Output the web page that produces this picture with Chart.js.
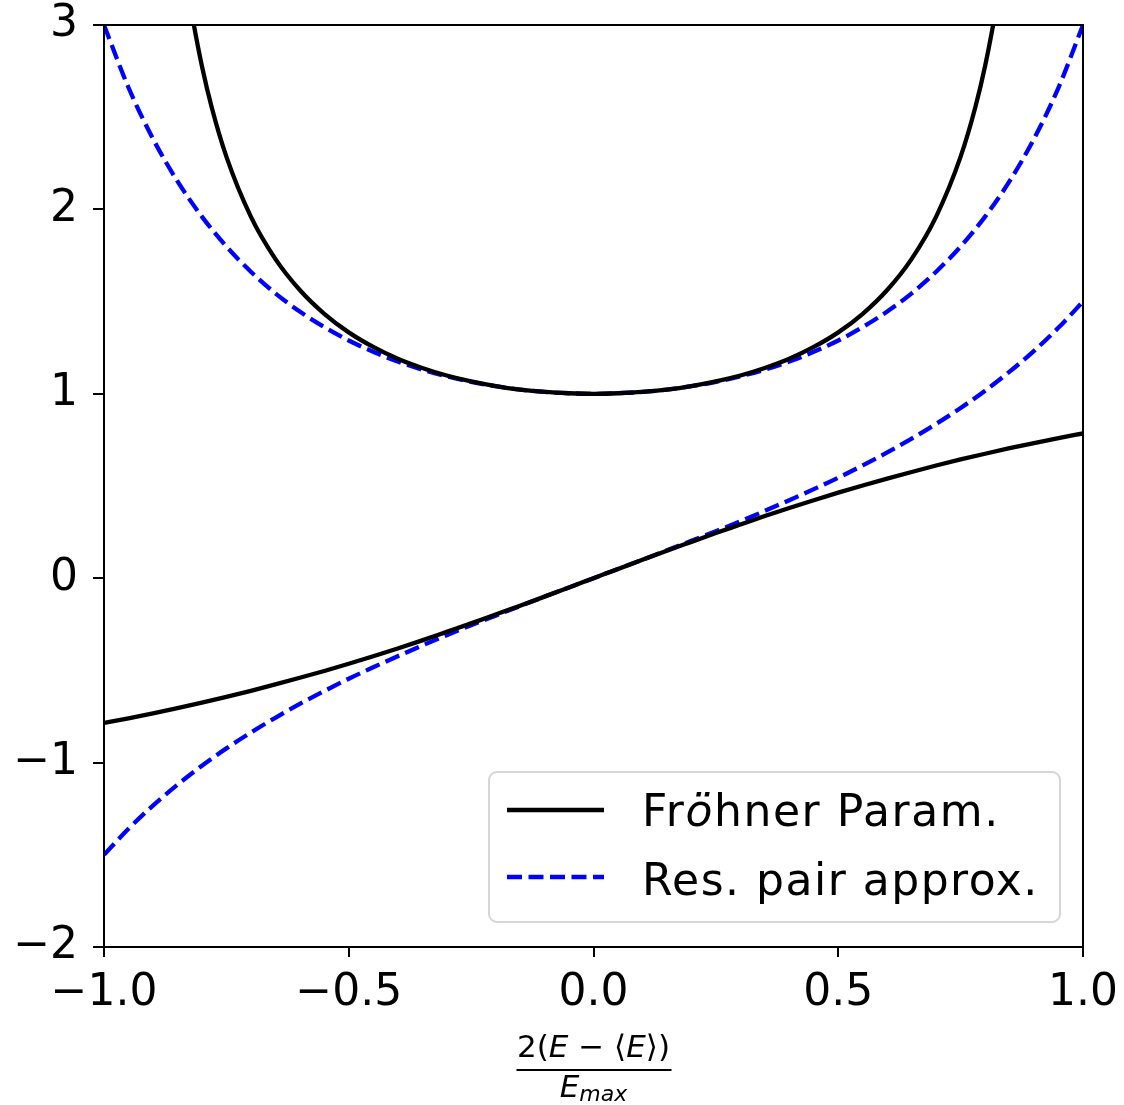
<!DOCTYPE html>
<html>
<head>
<meta charset="utf-8">
<script src="https://cdn.jsdelivr.net/npm/chart.js@4.4.1/dist/chart.umd.min.js"></script>
<style>
  html, body { margin: 0; padding: 0; background: #fff; }
  #wrap { width: 1124px; height: 1105px; position: relative; }
</style>
</head>
<body>
<div id="wrap"><canvas id="myChart" width="1124" height="1105"></canvas></div>
<script>
// values
const xValues = [-1, -0.95, -0.9, -0.85, -0.8, -0.75, -0.7, -0.65, -0.6, -0.55, -0.5, -0.45, -0.4, -0.35, -0.3, -0.25, -0.2, -0.15, -0.1, -0.05,
  0, 0.05, 0.1, 0.15, 0.2, 0.25, 0.3, 0.35, 0.4, 0.45, 0.5, 0.55, 0.6, 0.65, 0.7, 0.75, 0.8, 0.85, 0.9, 0.95, 1]

const froehnerLower = [-0.785, -0.760, -0.733, -0.705, -0.675, -0.644, -0.611, -0.576, -0.540, -0.503, -0.464, -0.423, -0.381, -0.337, -0.291, -0.245, -0.197, -0.149, -0.100, -0.050,
  0, 0.050, 0.100, 0.149, 0.197, 0.245, 0.291, 0.337, 0.381, 0.423, 0.464, 0.503, 0.540, 0.576, 0.611, 0.644, 0.675, 0.705, 0.733, 0.760, 0.785]

const pairLower = [-1.500, -1.359, -1.233, -1.120, -1.017, -0.923, -0.837, -0.757, -0.682, -0.612, -0.545, -0.483, -0.423, -0.365, -0.309, -0.255, -0.203, -0.151, -0.100, -0.050,
  0, 0.050, 0.100, 0.151, 0.203, 0.255, 0.309, 0.365, 0.423, 0.483, 0.545, 0.612, 0.682, 0.757, 0.837, 0.923, 1.017, 1.120, 1.233, 1.359, 1.500]

const pairUpper = [3.000, 2.661, 2.383, 2.153, 1.961, 1.799, 1.662, 1.545, 1.446, 1.362, 1.289, 1.228, 1.175, 1.131, 1.095, 1.065, 1.041, 1.023, 1.010, 1.003,
  1, 1.003, 1.010, 1.023, 1.041, 1.065, 1.095, 1.131, 1.175, 1.228, 1.289, 1.362, 1.446, 1.545, 1.662, 1.799, 1.961, 2.153, 2.383, 2.661, 3.000]

const xUpperFroehner = [-0.83, -0.82, -0.8, -0.78, -0.75, -0.7, -0.65, -0.6, -0.55, -0.5, -0.45, -0.4, -0.35, -0.3, -0.25, -0.2, -0.15, -0.1, -0.05,
  0, 0.05, 0.1, 0.15, 0.2, 0.25, 0.3, 0.35, 0.4, 0.45, 0.5, 0.55, 0.6, 0.65, 0.7, 0.75, 0.78, 0.8, 0.82, 0.83]

const froehnerUpper = [3.214, 3.053, 2.778, 2.554, 2.286, 1.961, 1.732, 1.563, 1.434, 1.333, 1.254, 1.190, 1.140, 1.099, 1.067, 1.042, 1.023, 1.010, 1.003,
  1, 1.003, 1.010, 1.023, 1.042, 1.067, 1.099, 1.140, 1.190, 1.254, 1.333, 1.434, 1.563, 1.732, 1.961, 2.286, 2.554, 2.778, 3.053, 3.214]

const xTicks = [-1, -0.5, 0, 0.5, 1]
const yTicks = [-2, -1, 0, 1, 2, 3]
const legendLabels = ['Fröhner Param.', 'Res. pair approx.']

const FONT = '"DejaVu Sans", sans-serif'
const BLUE = '#0000ff'
const DASH = [15, 6.5]

const toPoints = (xs, ys) => xs.map((x, i) => ({ x, y: ys[i] }))

const lineStyle = {
  pointRadius: 0,
  borderWidth: 4.3,
  cubicInterpolationMode: 'monotone',
  fill: false,
  clip: 0
}

// tick labels may hang outside the plot, the page margins take care of that
const noOverflow = axis => {
  axis.paddingTop = 0
  axis.paddingBottom = 0
  axis.paddingLeft = 0
  axis.paddingRight = 0
}

// frame, legend box and fraction label, drawn on top of the lines
const extras = {
  id: 'extras',
  afterDatasetsDraw(chart) {
    const ctx = chart.ctx
    const a = chart.chartArea
    ctx.save()

    // frame
    ctx.strokeStyle = '#000'
    ctx.lineWidth = 2
    ctx.strokeRect(a.left, a.top, a.right - a.left, a.bottom - a.top)

    // legend
    const lx = 489, ly = 772, lw = 571, lh = 150
    ctx.beginPath()
    ctx.roundRect(lx, ly, lw, lh, 8)
    ctx.fillStyle = 'rgba(255,255,255,0.8)'
    ctx.fill()
    ctx.strokeStyle = '#d6d6d6'
    ctx.lineWidth = 2
    ctx.stroke()

    ctx.lineWidth = 4.3
    ctx.strokeStyle = '#000'
    ctx.beginPath(); ctx.moveTo(507, 810); ctx.lineTo(604, 810); ctx.stroke()
    ctx.strokeStyle = BLUE
    ctx.setLineDash(DASH)
    ctx.beginPath(); ctx.moveTo(507, 877); ctx.lineTo(604, 877); ctx.stroke()
    ctx.setLineDash([])

    ctx.fillStyle = '#000'
    ctx.textBaseline = 'alphabetic'
    ctx.textAlign = 'left'
    const drawRuns = (runs, x, y) => {
      runs.forEach(([text, font, dy]) => {
        ctx.font = font
        ctx.fillText(text, x, y + (dy || 0))
        x += ctx.measureText(text).width
      })
      return x
    }
    ctx.letterSpacing = '1.6px'
    const lab = legendLabels[0]
    drawRuns([
      [lab.slice(0, 2), '44px ' + FONT],
      [lab.slice(2, 3), 'italic 44px ' + FONT],
      [lab.slice(3), '44px ' + FONT]
    ], 642, 826)
    ctx.letterSpacing = '1.5px'
    ctx.font = '44px ' + FONT
    ctx.fillText(legendLabels[1], 642, 895)
    ctx.letterSpacing = '0px'

    // x axis title as a fraction
    const cx = (a.left + a.right) / 2
    const num = [
      ['2(', '31px ' + FONT],
      ['E', 'italic 31px ' + FONT],
      [' − ', '31px ' + FONT],
      ['⟨', '31px ' + FONT],
      ['E', 'italic 31px ' + FONT],
      ['⟩)', '31px ' + FONT]
    ]
    let w = 0
    num.forEach(([t, f]) => { ctx.font = f; w += ctx.measureText(t).width })
    drawRuns(num, cx - w / 2, 1057)
    ctx.lineWidth = 2
    ctx.strokeStyle = '#000'
    ctx.beginPath(); ctx.moveTo(cx - 77, 1070); ctx.lineTo(cx + 78, 1070); ctx.stroke()
    const den = [
      ['E', 'italic 31px ' + FONT],
      ['max', 'italic 22px ' + FONT, 4]
    ]
    w = 0
    den.forEach(([t, f]) => { ctx.font = f; w += ctx.measureText(t).width })
    drawRuns(den, cx - w / 2, 1097)

    ctx.restore()
  }
}

new Chart(document.getElementById('myChart'), {
  type: 'line',
  data: {
    datasets: [
      { label: legendLabels[0], data: toPoints(xUpperFroehner, froehnerUpper), borderColor: '#000', ...lineStyle },
      { label: legendLabels[0], data: toPoints(xValues, froehnerLower), borderColor: '#000', ...lineStyle },
      { label: legendLabels[1], data: toPoints(xValues, pairUpper), borderColor: BLUE, borderDash: DASH, ...lineStyle },
      { label: legendLabels[1], data: toPoints(xValues, pairLower), borderColor: BLUE, borderDash: DASH, ...lineStyle }
    ]
  },
  options: {
    responsive: false,
    animation: false,
    devicePixelRatio: 1,
    layout: { padding: { top: 25, right: 41, left: 0, bottom: 0 } },
    plugins: {
      legend: { display: false },
      tooltip: { enabled: false }
    },
    scales: {
      x: {
        type: 'linear',
        min: -1,
        max: 1,
        afterBuildTicks: axis => { axis.ticks = xTicks.map(v => ({ value: v })) },
        afterFit: axis => { axis.height = 158; noOverflow(axis) },
        border: { display: false },
        grid: { drawOnChartArea: false, drawTicks: true, tickLength: 10, color: '#000', lineWidth: 2 },
        ticks: {
          color: '#000',
          padding: 10,
          maxRotation: 0,
          font: { family: FONT, size: 44 },
          callback: v => v.toFixed(1).replace('-', '−')
        }
      },
      y: {
        type: 'linear',
        min: -2,
        max: 3,
        afterBuildTicks: axis => { axis.ticks = yTicks.map(v => ({ value: v })) },
        afterFit: axis => { axis.width = 104; noOverflow(axis) },
        border: { display: false },
        grid: { drawOnChartArea: false, drawTicks: true, tickLength: 11, color: '#000', lineWidth: 2 },
        ticks: {
          color: '#000',
          padding: 15,
          font: { family: FONT, size: 44 },
          callback: v => String(v).replace('-', '−')
        }
      }
    }
  },
  plugins: [extras]
})
</script>
</body>
</html>
